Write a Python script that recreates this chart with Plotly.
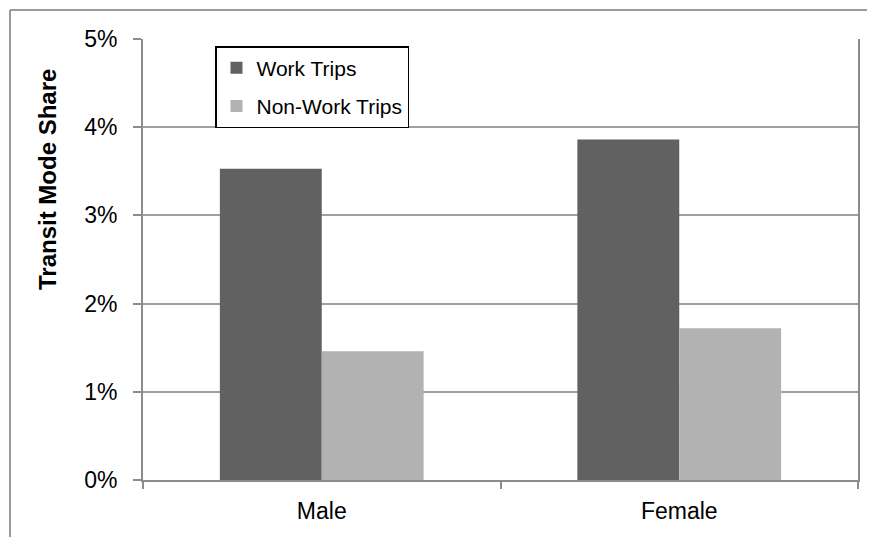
import plotly.graph_objects as go

categories = ["Male", "Female"]
work_trips = [0.0353, 0.0386]
nonwork_trips = [0.0146, 0.0172]
series_names = ["Work Trips", "Non-Work Trips"]
y_tick_vals = [0, 0.01, 0.02, 0.03, 0.04, 0.05]
y_title = "Transit Mode Share"

FONT = "Liberation Sans, Arial, sans-serif"

# page body has an 8px margin, so figure coordinates = screen coordinates - 8
W, H = 867, 529
L, R, T, B = 135, 17, 31, 57
PW = W - L - R
PH = H - T - B

fig = go.Figure()
fig.add_trace(go.Bar(x=categories, y=work_trips, name=series_names[0], legendgroup="a",
                     marker=dict(color="#616161", line=dict(width=0))))
fig.add_trace(go.Bar(x=categories, y=nonwork_trips, name=series_names[1], legendgroup="b",
                     marker=dict(color="#b2b2b2", line=dict(width=0))))

fig.update_layout(
    width=W, height=H,
    margin=dict(l=L, r=R, t=T, b=B),
    paper_bgcolor="white", plot_bgcolor="white",
    barmode="group", bargap=0.43, bargroupgap=0,
    font=dict(family=FONT, size=22, color="black"),
    showlegend=True,
    legend=dict(
        x=(207 - L) / PW, y=(H - B - 38) / PH, xanchor="left", yanchor="top",
        bordercolor="black", borderwidth=1.5, bgcolor="white",
        font=dict(family=FONT, size=21, color="black"),
        traceorder="grouped", tracegroupgap=8, itemwidth=30,
    ),
    xaxis=dict(
        showline=True, linecolor="#8c8c8c", linewidth=2,
        ticks="outside", tickson="boundaries", ticklen=7, tickcolor="#8c8c8c", tickwidth=2,
        showgrid=False, tickfont=dict(family=FONT, size=23, color="black"),
        ticklabelstandoff=9,
    ),
    yaxis=dict(
        range=[0, 0.05], tickvals=y_tick_vals, tickformat=".0%",
        showline=True, linecolor="#8c8c8c", linewidth=2, mirror=True,
        ticks="outside", ticklen=8, tickcolor="#8c8c8c", tickwidth=2,
        showgrid=True, gridcolor="#a0a0a0", gridwidth=2,
        zeroline=False,
        tickfont=dict(family=FONT, size=23, color="black"),
        ticklabelstandoff=11,
    ),
    annotations=[
        dict(text="<b>" + y_title + "</b>", xref="paper", yref="paper",
             x=(39 - L) / PW, y=(H - B - 172) / PH, xanchor="center", yanchor="middle",
             textangle=-90, showarrow=False,
             font=dict(family=FONT, size=24, color="black")),
    ],
    shapes=[
        dict(type="line", xref="paper", yref="paper",
             x0=(2 - L) / PW, x1=(W + 10 - L) / PW,
             y0=(H - B - 2) / PH, y1=(H - B - 2) / PH,
             line=dict(color="#9a9a9a", width=2)),
        dict(type="line", xref="paper", yref="paper",
             x0=(2 - L) / PW, x1=(2 - L) / PW,
             y0=(H - B - 2) / PH, y1=-(B + 10) / PH,
             line=dict(color="#9a9a9a", width=2)),
    ],
)

fig.write_html("out.html")
